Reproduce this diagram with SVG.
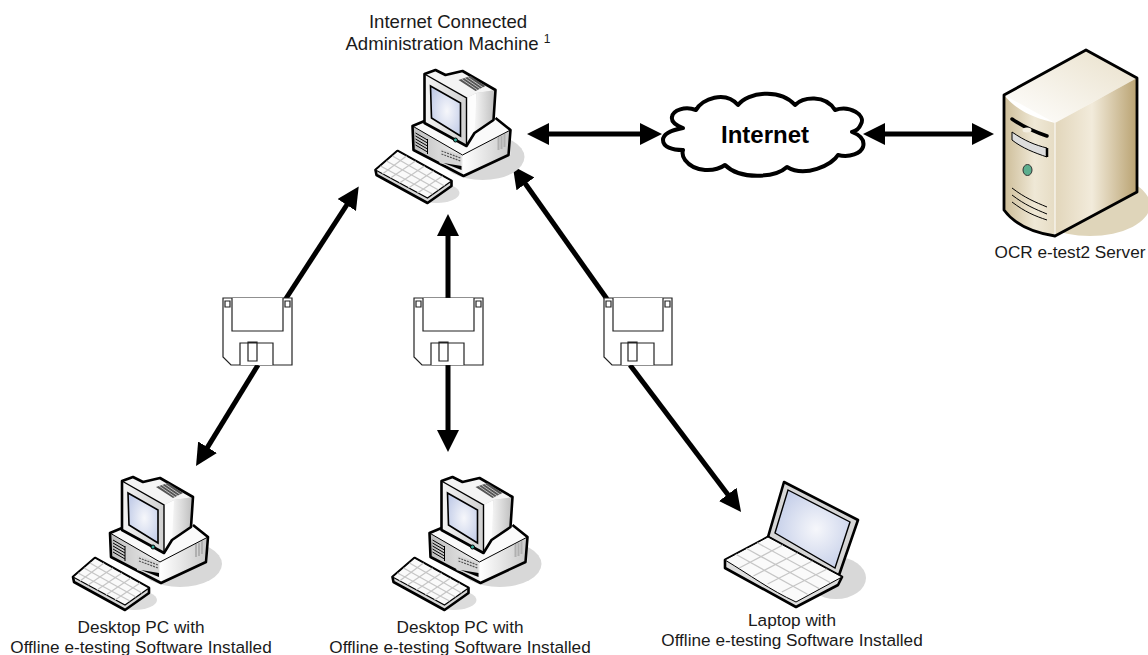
<svg xmlns="http://www.w3.org/2000/svg" width="1148" height="655" viewBox="0 0 1148 655">
<style>
text{font-family:"Liberation Sans",Arial,sans-serif;font-size:17.2px;fill:#1a1a1a;text-anchor:middle}
.ol{stroke:#000;stroke-width:2.6;stroke-linejoin:round}
.thin{stroke:#000;stroke-width:1;fill:none}
.arrow{stroke:#000;stroke-width:5;fill:none}
.fl{fill:#fff;stroke:#222;stroke-width:1.2}
.key{stroke:#c6c6c6;stroke-width:1.3;fill:none}
</style>
<defs>
<marker id="ah" markerUnits="userSpaceOnUse" markerWidth="24" markerHeight="24" refX="6" refY="11" orient="auto"><path d="M0,0L22,11L0,22z" fill="#000"/></marker>
<radialGradient id="screen" cx="0.55" cy="0.5" r="0.6"><stop offset="0" stop-color="#f6f7fb"/><stop offset="1" stop-color="#c3cde8"/></radialGradient>
<linearGradient id="grey" x1="0" y1="0" x2="1" y2="0"><stop offset="0" stop-color="#fff"/><stop offset="1" stop-color="#c8c8c8"/></linearGradient>
<linearGradient id="grey2" x1="0" y1="0" x2="1" y2="0"><stop offset="0" stop-color="#bdbdbd"/><stop offset="1" stop-color="#f0f0f0"/></linearGradient>
<linearGradient id="side" x1="0" y1="0" x2="1" y2="0"><stop offset="0" stop-color="#f6f6f6"/><stop offset="1" stop-color="#bdbdbd"/></linearGradient>
<linearGradient id="mon" x1="0" y1="0" x2="1" y2="0"><stop offset="0" stop-color="#f4f4f4"/><stop offset="1" stop-color="#b8b8b8"/></linearGradient>
<linearGradient id="srvF" x1="0" y1="0" x2="1" y2="0"><stop offset="0" stop-color="#cdbd98"/><stop offset="0.6" stop-color="#efe8d6"/><stop offset="1" stop-color="#e6dcc4"/></linearGradient>
<linearGradient id="srvS" x1="0" y1="0" x2="1" y2="0"><stop offset="0" stop-color="#e2d6bb"/><stop offset="0.45" stop-color="#f2ebdb"/><stop offset="1" stop-color="#b9a271"/></linearGradient>
<linearGradient id="srvT" x1="0" y1="1" x2="1" y2="0"><stop offset="0" stop-color="#fff"/><stop offset="1" stop-color="#e9e0ca"/></linearGradient>
<g id="pc">
<ellipse cx="180" cy="564" rx="42" ry="23" fill="#d8d8d8"/>
<ellipse cx="134" cy="600" rx="23" ry="10" fill="#dcdcdc"/>
<path d="M110,533L122,528L193,525L208,537V562L161,583L111,557z" fill="#eee"/>
<path d="M110,533L160,562L208,537L193,525L122,528z" fill="#fafafa"/>
<path d="M160,562V583L206,562L208,537z" fill="url(#grey)"/>
<path d="M110,533L160,562V583L111,557z" fill="url(#grey2)"/>
<path d="M110,533L160,562L208,537" stroke="#000" stroke-width="1" fill="none"/>
<path class="ol" d="M122,528L110,533L111,557L161,583L206,562L208,537L193,525" fill="none"/>
<path d="M113,540L125,547M113,543L125,550M113,546L125,553M113,549L125,556M113,552L125,559" class="thin"/>
<path d="M125,546V561" class="thin"/>
<path d="M137,555L159,562V577L137,570z" fill="#d6d6d6"/>
<path d="M139,558L158,565M139,561L158,568" stroke="#555" stroke-width="1.2" stroke-dasharray="2 1"/>
<path d="M141,570L159,573V577z" fill="#000"/>
<path d="M196,544V557M199,543V556M202,541V554" stroke="#b0b0b0" stroke-width="2"/>
<path d="M122,481L133,477L143,482L160,478L193,497L191,527L172,540L164,553L122,530z" fill="url(#mon)"/>
<path d="M164,505L174,500V540L164,553z" fill="#fdfdfd"/>
<path d="M174,500L193,497L191,527L172,540z" fill="url(#side)"/>
<path d="M122,481L133,477L143,482L160,478L193,497L174,500L164,505z" fill="#f4f4f4"/>
<path d="M122,481L133,477L143,482L160,478L193,497L191,527L172,540L164,553L122,530z" class="ol" fill="none"/>
<path d="M122,481L164,505L164,553" stroke="#000" stroke-width="1.4" fill="none"/>
<path d="M156,487L168,483L183,493L173,498z" fill="#555"/>
<path d="M159,486L175,497M162,485L178,496M165,484L181,495" stroke="#ddd" stroke-width="0.8"/>
<path d="M128,493L158,510V543L129,525z" fill="url(#screen)" stroke="#000" stroke-width="1.6"/>
<circle cx="153" cy="547" r="2" fill="#3a9" stroke="#000" stroke-width="1"/>
<path class="ol" d="M95,558L149,588V593L125,610L74,582L73,577z" fill="#d8d8d8"/>
<path d="M95,558L149,588L125,605L73,577z" fill="#fafafa" stroke="#000" stroke-width="1.2"/>
<path class="key" d="M78,573L130,601M84,568L136,597M90,563L142,593M104,563L80,581M113,568L88,585M122,573L97,590M131,578L106,595M140,583L115,600"/>
</g>
</defs>
<g id="connectors">
<path class="arrow" d="M545,134H645"/>
<path d="M527,134L549,123V145z M662,134L640,123V145z" fill="#000"/>
<path class="arrow" d="M880,134H978"/>
<path d="M863,134L885,123V145z M994,134L972,123V145z" fill="#000"/>
<path class="arrow" d="M285,300L350,200" marker-end="url(#ah)"/>
<path class="arrow" d="M258,365L204.400,452.400" marker-end="url(#ah)"/>
<path class="arrow" d="M448,299V230" marker-end="url(#ah)"/>
<path class="arrow" d="M448,365V436" marker-end="url(#ah)"/>
<path class="arrow" d="M607,299L522,179" marker-end="url(#ah)"/>
<path class="arrow" d="M630,365L731.400,499.200" marker-end="url(#ah)"/>
</g>
<g id="admin-pc"><use href="#pc" x="302.500" y="-407"/><text x="448" y="28" style="font-size:18.6px">Internet Connected</text><text x="448" y="50" style="font-size:18.6px">Administration Machine <tspan style="font-size:12px" dy="-7">1</tspan></text></g>
<g id="cloud"><path d="M683,128C675,125 671,122 672,117C673,110 685,106 696,110C702,99 725,90 738,105C748,92 780,88 795,105C803,97 825,94 835,110C850,105 866,115 861,124C859,129 856,131 852,132C860,135 865,140 863,147C861,153 850,158 838,155C832,165 805,178 787,167C775,178 740,180 725,165C715,172 695,173 685,160C683,157 682,153 683,150C672,150 663,147 663,140C663,134 672,130 683,128z" fill="#fff" stroke="#000" stroke-width="4" stroke-linejoin="round"/><text x="765" y="143" style="font-size:24px;font-weight:bold;fill:#000">Internet</text></g>
<g id="server">
<ellipse cx="1090" cy="205" rx="60" ry="31" fill="#dfd5ba"/>
<path d="M1004,95L1086,50L1137,78L1055,123z" fill="url(#srvT)"/>
<path d="M1004,95C1018,112 1035,118 1055,123V236C1035,233 1015,225 1004,210z" fill="url(#srvF)"/>
<path d="M1055,123L1137,78V192L1055,236z" fill="url(#srvS)"/>
<path d="M1055,123V236" stroke="#fff" stroke-width="1"/>
<path d="M1004,95L1086,50L1137,78V192L1055,236C1035,233 1015,225 1004,210z" fill="none" stroke="#000" stroke-width="2.8" stroke-linejoin="round"/>
<path d="M1012,119C1025,128 1035,132 1047,136" stroke="#000" stroke-width="3.500" fill="none" stroke-linecap="round"/>
<ellipse cx="1027" cy="130" rx="4.500" ry="2.500" fill="#f4efe2"/>
<path d="M1012,132C1025,141 1035,145 1047,148V157C1035,153 1022,148 1012,140z" fill="#ddd" stroke="#000" stroke-width="1"/>
<path d="M1047,148V157" stroke="#000" stroke-width="2.500"/>
<ellipse cx="1027.500" cy="170" rx="4.500" ry="5.500" fill="#5cae8e" stroke="#333"/>
<path d="M1012,188C1025,198 1035,202 1047,207M1012,195C1025,205 1035,209 1047,214M1012,202C1025,212 1035,216 1047,220" class="thin"/>
<text x="1070" y="258">OCR e-test2 Server</text>
</g>
<g id="floppy-1"><path class="fl" d="M223,298H292V365H231L223,357z"/><path class="fl" d="M232,298V331H283V298M225,301h5v6h-5zM285,301h5v6h-5zM240,365V343H273V365M248,342H257V361H248z"/></g>
<g id="floppy-2"><path class="fl" d="M414,298H483V365H422L414,357z"/><path class="fl" d="M423,298V331H474V298M416,301h5v6h-5zM476,301h5v6h-5zM431,365V343H464V365M439,342H448V361H439z"/></g>
<g id="floppy-3"><path class="fl" d="M604,298H672V365H612L604,357z"/><path class="fl" d="M613,298V331H663V298M606,301h5v6h-5zM665,301h5v6h-5zM621,365V343H654V365M628,342H637V361H628z"/></g>
<g id="desktop-1"><use href="#pc"/><text x="141" y="633">Desktop PC with</text><text x="141" y="653">Offline e-testing Software Installed</text></g>
<g id="desktop-2"><use href="#pc" x="319.500"/><text x="460" y="633">Desktop PC with</text><text x="460" y="653">Offline e-testing Software Installed</text></g>
<g id="laptop">
<ellipse cx="836" cy="578" rx="30" ry="21" fill="#d8d8d8"/>
<path class="ol" d="M784,482L858,520L838,578L768,537z" fill="#d6d6d6"/>
<path d="M788,490L850,522L835,568L775,533z" fill="url(#screen)" stroke="#000" stroke-width="1.4"/>
<path class="ol" d="M725,560L768,537L842,577L838,585L796,607L725,568z" fill="#dedede"/>
<path d="M725,560L768,537L842,577L796,602C770,590 750,575 725,560z" fill="#fafafa" stroke="#000" stroke-width="1"/>
<path class="key" d="M735.800,554.300L807.500,594.300M746.500,548.500L819,588.500M757.300,542.800L830.500,582.800M782.800,545L739.200,568M797.600,553L753.400,576M812.400,561L767.600,584M827.200,569L781.800,592"/>
<text x="792" y="626">Laptop with</text><text x="792" y="646">Offline e-testing Software Installed</text>
</g>
</svg>
